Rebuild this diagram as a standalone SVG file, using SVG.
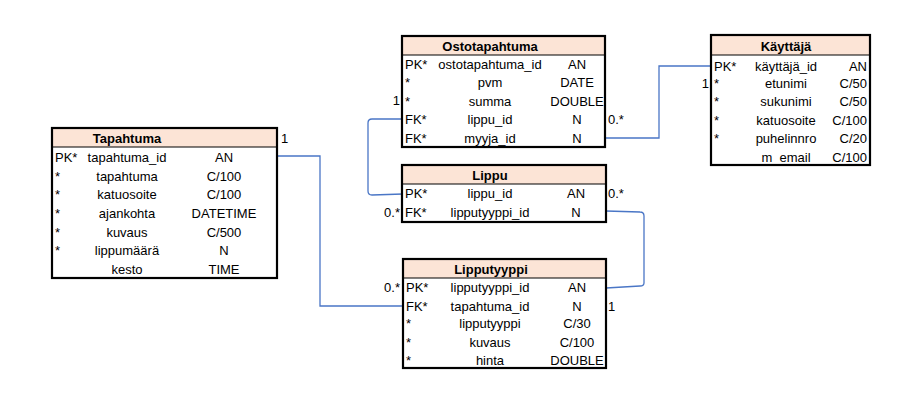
<svg xmlns="http://www.w3.org/2000/svg" width="920" height="400" viewBox="0 0 920 400">
  <style>
    text { font-family: "Liberation Sans", Arial, sans-serif; font-size: 13px; fill: #000; }
    .title { font-weight: bold; text-anchor: middle; }
    .mid { text-anchor: middle; }
    .end { text-anchor: end; }
    .head { fill: #fce4d6; }
    .body { fill: #ffffff; }
    .frame { fill: none; stroke: #000; stroke-width: 2.2; }
    .sep { stroke: #000; stroke-width: 1; }
    .conn { fill: none; stroke: #4a76c6; stroke-width: 1.3; }
  </style>
  <rect width="920" height="400" fill="#ffffff"/>

  <!-- relationship lines -->
  <g id="connectors">
    <path class="conn" d="M277,156 H320 V306 H403"/>
    <path class="conn" d="M606,211 L640,212 Q644,212 644,216 V283 Q644,286 640,286 L606,288"/>
    <path class="conn" d="M402,119 H372 Q368,119 368,123 V191 Q368,195 372,195 L403,194"/>
    <path class="conn" d="M605,138 H659 V66 H711"/>
    <text x="281" y="143">1</text>
    <text x="400" y="105" class="end">1</text>
    <text x="608" y="124">0.*</text>
    <text x="709" y="88" class="end">1</text>
    <text x="608" y="198">0.*</text>
    <text x="400" y="217" class="end">0.*</text>
    <text x="400" y="292" class="end">0.*</text>
    <text x="608" y="311">1</text>
  </g>

  <!-- Tapahtuma -->
  <g id="tapahtuma">
    <rect class="body" x="52" y="128" width="225" height="150"/>
    <rect class="head" x="52" y="128" width="225" height="19"/>
    <line class="sep" x1="52" y1="147" x2="277" y2="147"/>
    <rect class="frame" x="52" y="128" width="225" height="150"/>
    <text x="127" y="143" class="title">Tapahtuma</text>
    <text x="55" y="162">PK*</text><text x="127" y="162" class="mid">tapahtuma_id</text><text x="224" y="162" class="mid">AN</text>
    <text x="55" y="181">*</text><text x="127" y="181" class="mid">tapahtuma</text><text x="224" y="181" class="mid">C/100</text>
    <text x="55" y="199">*</text><text x="127" y="199" class="mid">katuosoite</text><text x="224" y="199" class="mid">C/100</text>
    <text x="55" y="218">*</text><text x="127" y="218" class="mid">ajankohta</text><text x="224" y="218" class="mid">DATETIME</text>
    <text x="55" y="237">*</text><text x="127" y="237" class="mid">kuvaus</text><text x="224" y="237" class="mid">C/500</text>
    <text x="55" y="255">*</text><text x="127" y="255" class="mid">lippumäärä</text><text x="224" y="255" class="mid">N</text>
    <text x="127" y="274" class="mid">kesto</text><text x="224" y="274" class="mid">TIME</text>
  </g>

  <!-- Ostotapahtuma -->
  <g id="ostotapahtuma">
    <rect class="body" x="402" y="36" width="203" height="111"/>
    <rect class="head" x="402" y="36" width="203" height="19"/>
    <line class="sep" x1="402" y1="55" x2="605" y2="55"/>
    <rect class="frame" x="402" y="36" width="203" height="111"/>
    <text x="490" y="51" class="title">Ostotapahtuma</text>
    <text x="405" y="69">PK*</text><text x="490" y="69" class="mid">ostotapahtuma_id</text><text x="577" y="69" class="mid">AN</text>
    <text x="405" y="87">*</text><text x="490" y="87" class="mid">pvm</text><text x="577" y="87" class="mid">DATE</text>
    <text x="405" y="106">*</text><text x="490" y="106" class="mid">summa</text><text x="577" y="106" class="mid">DOUBLE</text>
    <text x="405" y="124">FK*</text><text x="490" y="124" class="mid">lippu_id</text><text x="577" y="124" class="mid">N</text>
    <text x="405" y="143">FK*</text><text x="490" y="143" class="mid">myyja_id</text><text x="577" y="143" class="mid">N</text>
  </g>

  <!-- Käyttäjä -->
  <g id="kayttaja">
    <rect class="body" x="711" y="35" width="159" height="130"/>
    <rect class="head" x="711" y="35" width="159" height="20"/>
    <line class="sep" x1="711" y1="55" x2="870" y2="55"/>
    <rect class="frame" x="711" y="35" width="159" height="130"/>
    <text x="786" y="51" class="title">Käyttäjä</text>
    <text x="714" y="71">PK*</text><text x="786" y="71" class="mid">käyttäjä_id</text><text x="867" y="71" class="end">AN</text>
    <text x="714" y="88">*</text><text x="786" y="88" class="mid">etunimi</text><text x="867" y="88" class="end">C/50</text>
    <text x="714" y="106">*</text><text x="786" y="106" class="mid">sukunimi</text><text x="867" y="106" class="end">C/50</text>
    <text x="714" y="125">*</text><text x="786" y="125" class="mid">katuosoite</text><text x="867" y="125" class="end">C/100</text>
    <text x="714" y="143">*</text><text x="786" y="143" class="mid">puhelinnro</text><text x="867" y="143" class="end">C/20</text>
    <text x="786" y="162" class="mid">m_email</text><text x="867" y="162" class="end">C/100</text>
  </g>

  <!-- Lippu -->
  <g id="lippu">
    <rect class="body" x="402" y="165" width="204" height="57"/>
    <rect class="head" x="402" y="165" width="204" height="19"/>
    <line class="sep" x1="402" y1="184" x2="606" y2="184"/>
    <rect class="frame" x="402" y="165" width="204" height="57"/>
    <text x="490" y="180" class="title">Lippu</text>
    <text x="405" y="198">PK*</text><text x="490" y="198" class="mid">lippu_id</text><text x="576" y="198" class="mid">AN</text>
    <text x="405" y="217">FK*</text><text x="490" y="217" class="mid">lipputyyppi_id</text><text x="576" y="217" class="mid">N</text>
  </g>

  <!-- Lipputyyppi -->
  <g id="lipputyyppi">
    <rect class="body" x="403" y="259" width="203" height="109"/>
    <rect class="head" x="403" y="259" width="203" height="19"/>
    <line class="sep" x1="403" y1="278" x2="606" y2="278"/>
    <rect class="frame" x="403" y="259" width="203" height="109"/>
    <text x="491" y="274" class="title">Lipputyyppi</text>
    <text x="406" y="292">PK*</text><text x="490" y="292" class="mid">lipputyyppi_id</text><text x="577" y="292" class="mid">AN</text>
    <text x="406" y="311">FK*</text><text x="490" y="311" class="mid">tapahtuma_id</text><text x="577" y="311" class="mid">N</text>
    <text x="406" y="328">*</text><text x="490" y="328" class="mid">lipputyyppi</text><text x="577" y="328" class="mid">C/30</text>
    <text x="406" y="347">*</text><text x="490" y="347" class="mid">kuvaus</text><text x="577" y="347" class="mid">C/100</text>
    <text x="406" y="365">*</text><text x="490" y="365" class="mid">hinta</text><text x="577" y="365" class="mid">DOUBLE</text>
  </g>
</svg>
